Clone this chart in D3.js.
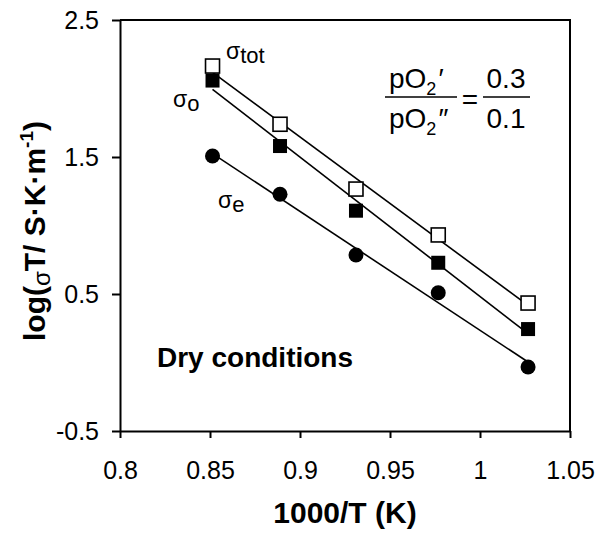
<!DOCTYPE html>
<html>
<head>
<meta charset="utf-8">
<script src="https://cdn.jsdelivr.net/npm/d3@7"></script>
<style>
  html, body { margin: 0; padding: 0; background: #fff; }
  svg { display: block; font-family: "Liberation Sans", Arial, sans-serif; }
</style>
</head>
<body>
<svg id="chart" width="600" height="548"></svg>
<script>
// Arrhenius data: 1000/T (K^-1) and log(sigma*T) for the three conductivity components
const invT      = [0.8514, 0.8889, 0.9311, 0.9768, 1.0267];
const sigmaTot  = [2.164, 1.739, 1.266, 0.931, 0.434];
const sigmaO    = [2.058, 1.580, 1.108, 0.728, 0.244];
const sigmaE    = [1.507, 1.228, 0.785, 0.509, -0.033];

const xTicks      = [0.8, 0.85, 0.9, 0.95, 1, 1.05];
const xTickLabels = ["0.8", "0.85", "0.9", "0.95", "1", "1.05"];
const yTicks      = [-0.5, 0.5, 1.5, 2.5];
const yTickLabels = ["-0.5", "0.5", "1.5", "2.5"];

const svg = d3.select("#chart");
const plotL = 120, plotR = 570, plotT = 20, plotB = 431;

const x = d3.scaleLinear().domain([0.8, 1.05]).range([plotL, plotR]);
const y = d3.scaleLinear().domain([-0.5, 2.5]).range([plotB, plotT]);

// Frame (top and right edges)
svg.append("path")
  .attr("d", `M${plotL},${plotT}H${plotR}V${plotB}`)
  .attr("fill", "none").attr("stroke", "#000").attr("stroke-width", 2);

// Axes
const xAxis = svg.append("g")
  .attr("transform", `translate(0,${plotB})`)
  .call(d3.axisBottom(x).tickValues(xTicks)
    .tickFormat((d, i) => xTickLabels[i]).tickSize(7).tickPadding(23).tickSizeOuter(0));
const yAxis = svg.append("g")
  .attr("transform", `translate(${plotL},0)`)
  .call(d3.axisLeft(y).tickValues(yTicks)
    .tickFormat((d, i) => yTickLabels[i]).tickSize(8).tickPadding(13).tickSizeOuter(0));

[xAxis, yAxis].forEach(g => {
  g.select(".domain").attr("stroke-width", 2);
  g.selectAll(".tick line").attr("stroke-width", 2);
  g.selectAll(".tick text")
    .attr("font-family", "'Liberation Sans', Arial, sans-serif")
    .attr("font-size", 25).attr("fill", "#000");
});

// Least-squares fit lines
function fit(xs, ys) {
  const mx = d3.mean(xs), my = d3.mean(ys);
  const sxy = d3.sum(xs, (v, i) => (v - mx) * (ys[i] - my));
  const sxx = d3.sum(xs, v => (v - mx) * (v - mx));
  const b = sxy / sxx;
  return v => my + b * (v - mx);
}
const series = [sigmaTot, sigmaO, sigmaE];
const x0 = d3.min(invT), x1 = d3.max(invT);
series.forEach(vals => {
  const f = fit(invT, vals);
  svg.append("line")
    .attr("x1", x(x0)).attr("y1", y(f(x0)))
    .attr("x2", x(x1)).attr("y2", y(f(x1)))
    .attr("stroke", "#000").attr("stroke-width", 1.6);
});

// Markers (filled after open so overlaps read the same way)
const sq = 14;
svg.append("g").selectAll("rect").data(invT.map((v, i) => [v, sigmaTot[i]])).join("rect")
  .attr("x", d => x(d[0]) - sq / 2).attr("y", d => y(d[1]) - sq / 2)
  .attr("width", sq).attr("height", sq)
  .attr("fill", "#fff").attr("stroke", "#000").attr("stroke-width", 1.6);
svg.append("g").selectAll("rect").data(invT.map((v, i) => [v, sigmaO[i]])).join("rect")
  .attr("x", d => x(d[0]) - sq / 2).attr("y", d => y(d[1]) - sq / 2)
  .attr("width", sq).attr("height", sq).attr("fill", "#000");
svg.append("g").selectAll("circle").data(invT.map((v, i) => [v, sigmaE[i]])).join("circle")
  .attr("cx", d => x(d[0])).attr("cy", d => y(d[1])).attr("r", 7.5).attr("fill", "#000");

// Series labels
function sigmaLabel(px, py, sub) {
  const t = svg.append("text").attr("x", px).attr("y", py).attr("font-size", 23);
  t.append("tspan").text("σ");
  t.append("tspan").attr("dy", 4).attr("font-size", 22).text(sub);
}
sigmaLabel(226, 59, "tot");
sigmaLabel(173, 107, "o");
sigmaLabel(218, 208, "e");

// Oxygen partial pressure ratio
const fs = 28;
const num = svg.append("text").attr("x", 389).attr("y", 88).attr("font-size", fs);
num.append("tspan").text("pO");
num.append("tspan").attr("font-size", 18).attr("dy", 7).text("2");
num.append("tspan").attr("dx", 2).attr("dy", -7).text("′");
const den = svg.append("text").attr("x", 389).attr("y", 128).attr("font-size", fs);
den.append("tspan").text("pO");
den.append("tspan").attr("font-size", 18).attr("dy", 7).text("2");
den.append("tspan").attr("dx", 2).attr("dy", -7).text("″");
svg.append("line").attr("x1", 385).attr("x2", 457).attr("y1", 97).attr("y2", 97)
  .attr("stroke", "#000").attr("stroke-width", 1.5);
svg.append("text").attr("x", 470).attr("y", 109).attr("text-anchor", "middle")
  .attr("font-size", fs).text("=");
svg.append("text").attr("x", 506).attr("y", 88).attr("text-anchor", "middle")
  .attr("font-size", fs).text("0.3");
svg.append("line").attr("x1", 483).attr("x2", 530).attr("y1", 97).attr("y2", 97)
  .attr("stroke", "#000").attr("stroke-width", 1.5);
svg.append("text").attr("x", 506).attr("y", 128).attr("text-anchor", "middle")
  .attr("font-size", fs).text("0.1");

// Condition note
svg.append("text").attr("x", 157).attr("y", 367)
  .attr("font-size", 28).attr("font-weight", "bold").text("Dry conditions");

// Axis titles
svg.append("text").attr("x", (plotL + plotR) / 2).attr("y", 523)
  .attr("text-anchor", "middle").attr("font-size", 30).attr("font-weight", "bold")
  .text("1000/T (K)");

const yl = svg.append("text")
  .attr("transform", "translate(45,231) rotate(-90)")
  .attr("text-anchor", "middle").attr("font-size", 30).attr("font-weight", "bold");
yl.append("tspan").text("log(");
yl.append("tspan").attr("font-weight", "normal").attr("font-size", 24).attr("dy", 5).text("σ");
yl.append("tspan").attr("dy", -5).text("T/ S·K·m");
yl.append("tspan").attr("font-size", 19).attr("dy", -12).text("-1");
yl.append("tspan").attr("dy", 12).text(")");
</script>
</body>
</html>
